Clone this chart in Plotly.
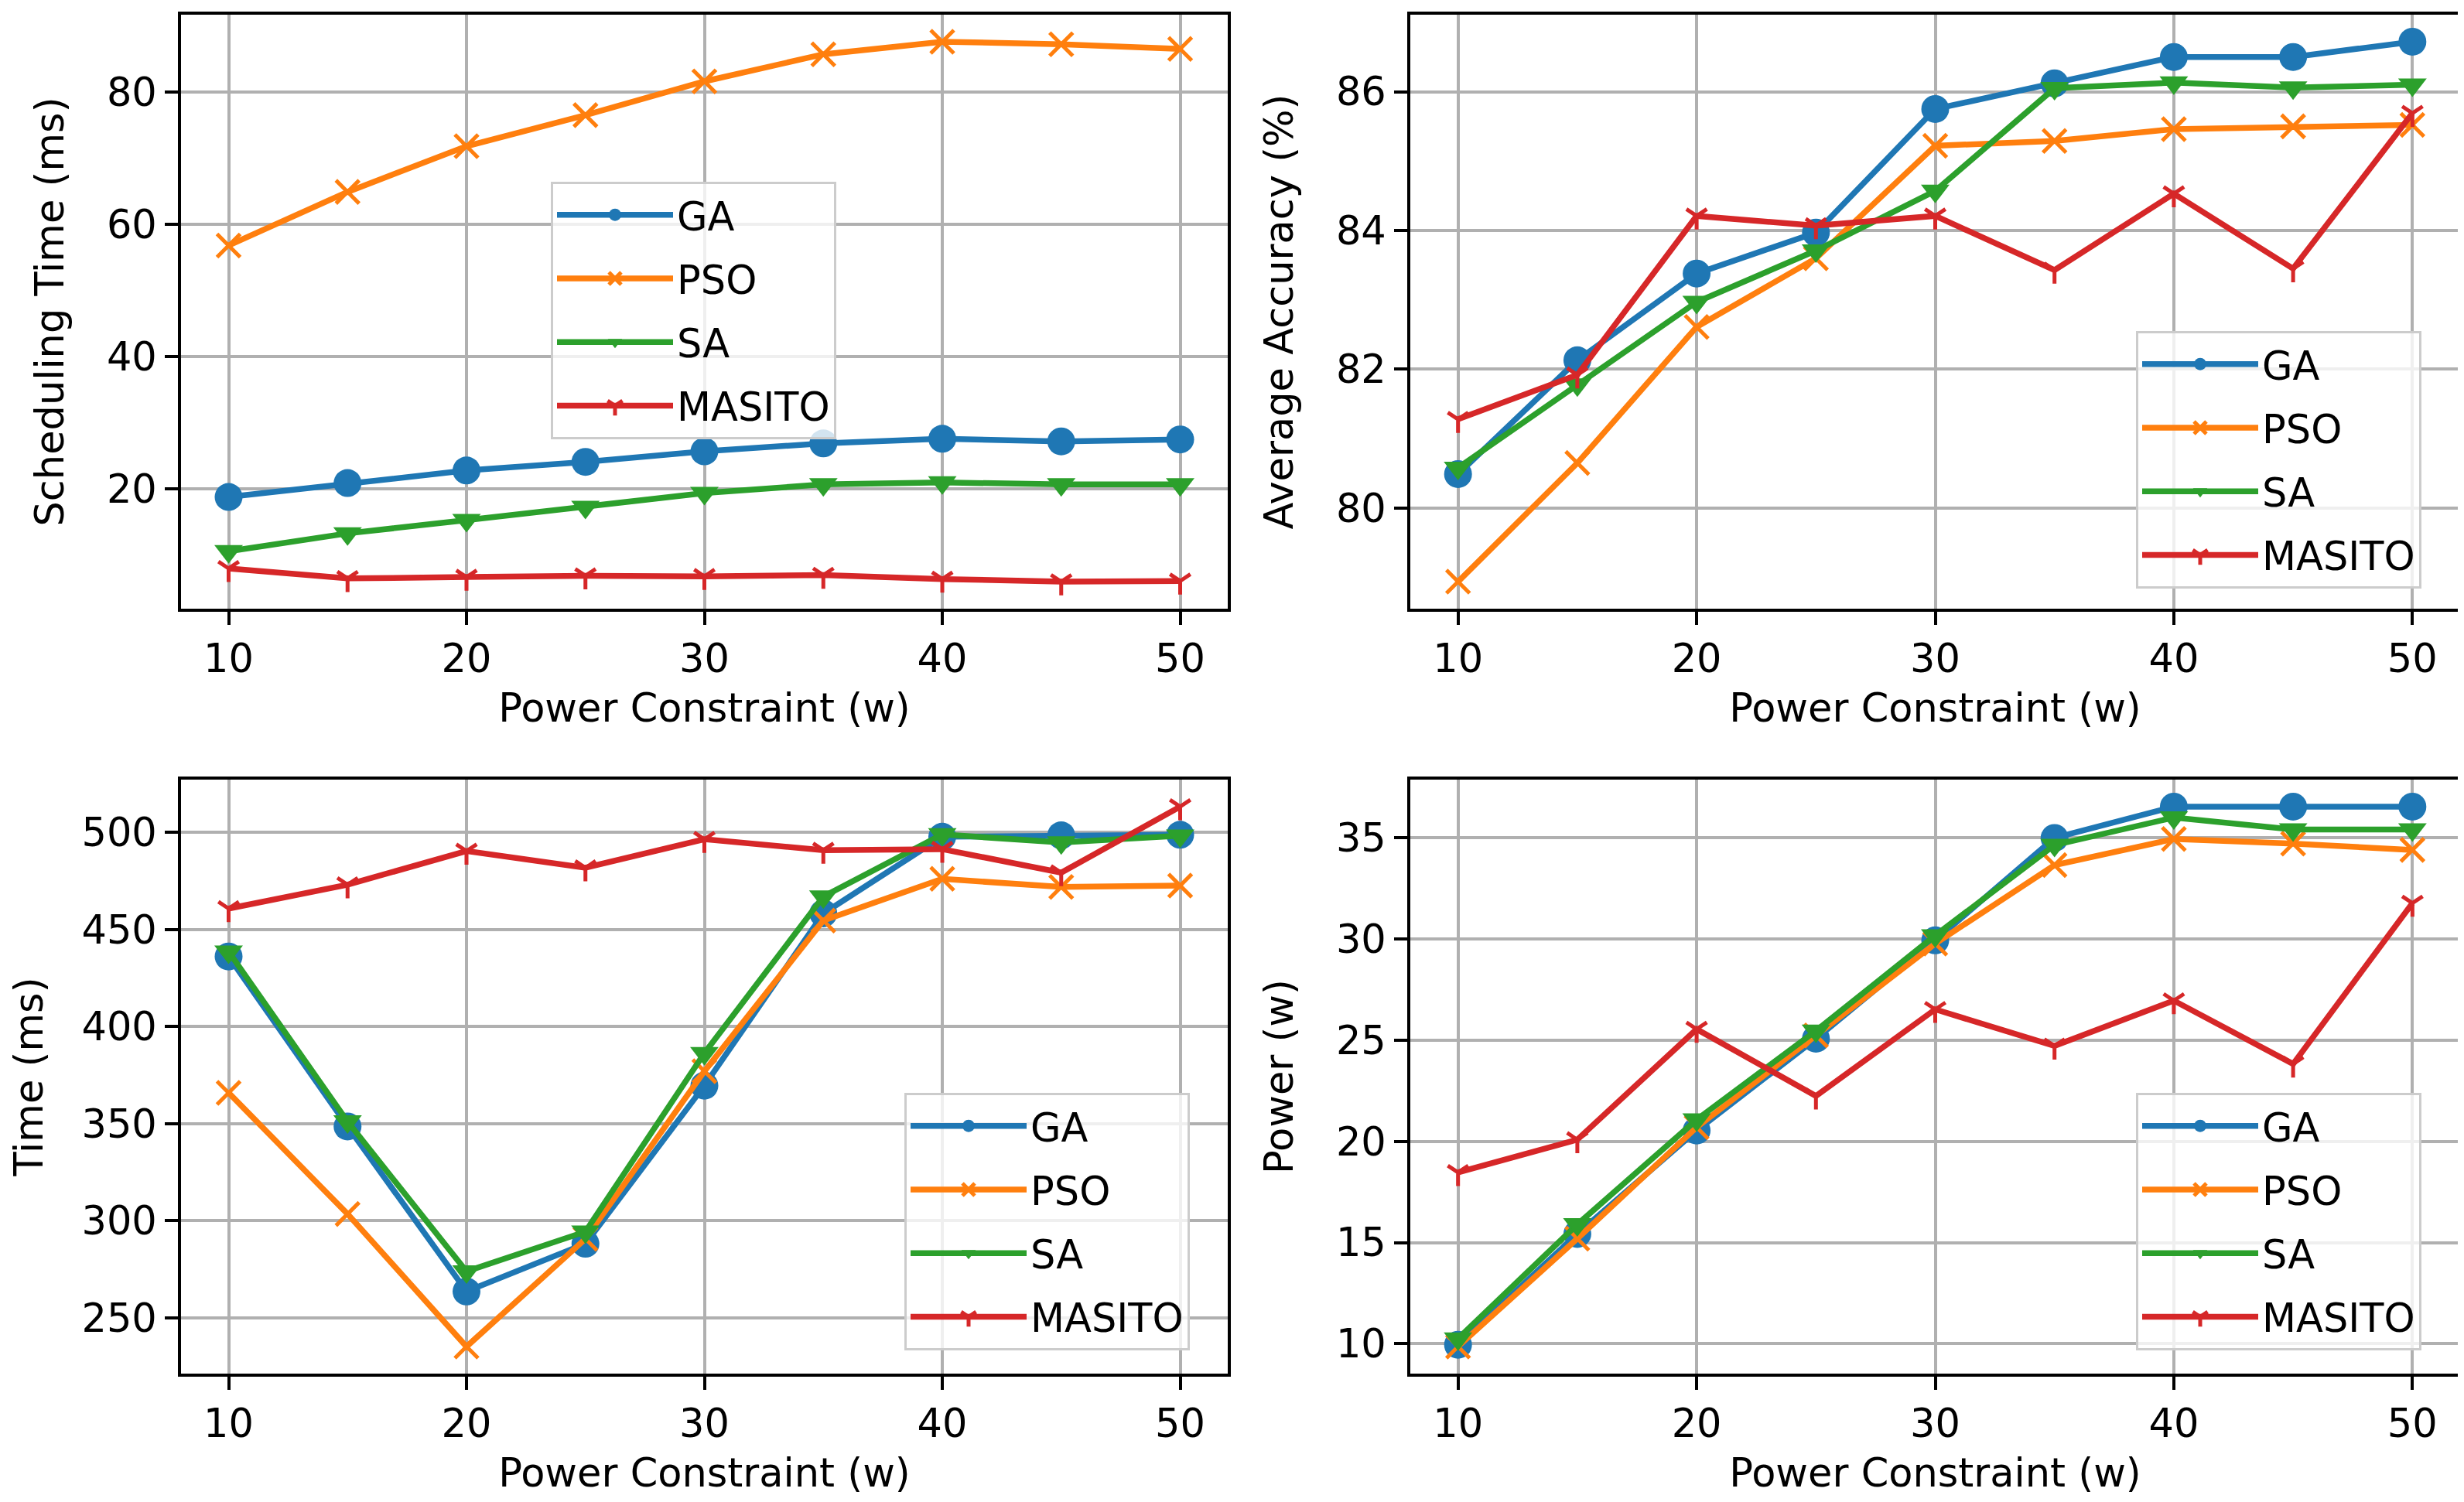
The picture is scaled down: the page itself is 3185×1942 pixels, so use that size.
# Four panels: scheduling time, accuracy, time and power against the power constraint
import plotly.graph_objects as go

power = [10, 15, 20, 25, 30, 35, 40, 45, 50]
methods = ["GA", "PSO", "SA", "MASITO"]

sched_ga = [18.8, 20.9, 22.8, 24.1, 25.7, 26.9, 27.6, 27.2, 27.5]
sched_pso = [56.8, 64.9, 71.8, 76.5, 81.6, 85.7, 87.6, 87.2, 86.5]
sched_sa = [10.6, 13.3, 15.3, 17.3, 19.4, 20.7, 21.0, 20.7, 20.7]
sched_masito = [8.0, 6.5, 6.7, 6.9, 6.8, 7.0, 6.4, 6.0, 6.1]

acc_ga = [80.49, 82.13, 83.38, 83.97, 85.75, 86.12, 86.50, 86.50, 86.72]
acc_pso = [78.94, 80.65, 82.61, 83.60, 85.22, 85.29, 85.46, 85.50, 85.52]
acc_sa = [80.58, 81.78, 82.97, 83.71, 84.57, 86.05, 86.13, 86.06, 86.10]
acc_masito = [81.28, 81.92, 84.21, 84.07, 84.21, 83.43, 84.53, 83.45, 85.69]

time_ga = [436.1, 348.6, 263.6, 288.2, 369.6, 458.3, 497.8, 498.5, 498.8]
time_pso = [365.9, 303.5, 235.2, 290.7, 377.0, 454.6, 476.1, 471.9, 472.6]
time_sa = [438.6, 351.1, 273.9, 294.4, 386.3, 467.0, 499.0, 494.8, 498.3]
time_masito = [460.8, 473.1, 490.4, 481.8, 496.5, 490.9, 491.4, 479.3, 513.3]

pow_ga = [9.95, 15.43, 20.54, 25.08, 29.94, 35.0, 36.55, 36.55, 36.55]
pow_pso = [9.86, 15.2, 20.7, 25.24, 29.78, 33.66, 34.95, 34.72, 34.41]
pow_sa = [10.26, 15.9, 21.08, 25.47, 30.18, 34.65, 36.01, 35.42, 35.42]
pow_masito = [18.47, 20.09, 25.55, 22.25, 26.53, 24.72, 26.96, 23.83, 31.78]

panels = [
    ([sched_ga, sched_pso, sched_sa, sched_masito], "Scheduling Time (ms)", [20, 40, 60, 80]),
    ([acc_ga, acc_pso, acc_sa, acc_masito], "Average Accuracy (%)", [80, 82, 84, 86]),
    ([time_ga, time_pso, time_sa, time_masito], "Time (ms)", [250, 300, 350, 400, 450, 500]),
    ([pow_ga, pow_pso, pow_sa, pow_masito], "Power (w)", [10, 15, 20, 25, 30, 35]),
]

colors = ["#1f77b4", "#ff7f0e", "#2ca02c", "#d62728"]
markers = [
    dict(symbol="circle", size=36),
    dict(symbol="x-thin", size=30, line=dict(width=5)),
    dict(symbol="triangle-down", size=32),
    dict(symbol="y-down", size=22, line=dict(width=5)),
]

W, H = 3185, 1942
FONT = "DejaVu Sans"
FS = 51

# axes boxes in pixels: left, right, top, bottom
boxes = [
    (226, 1579, 11, 779),
    (1815, 3172, 11, 779),
    (226, 1579, 1000, 1768),
    (1815, 3172, 1000, 1768),
]
legend_pos = [(704, 227), (2753, 420), (1161, 1405), (2753, 1405)]

fig = go.Figure()
layout = dict(
    width=W, height=H,
    margin=dict(l=0, r=0, t=0, b=0),
    paper_bgcolor="white", plot_bgcolor="white",
    font=dict(family=FONT, size=FS, color="black"),
)

for p, (series, ytitle, yticks) in enumerate(panels):
    n = "" if p == 0 else str(p + 1)
    leg = "legend" + n
    for name, vals, col, mk in zip(methods, series, colors, markers):
        m = dict(mk)
        m["color"] = col
        if "line" in m:
            m["line"] = dict(m["line"], color=col)
        fig.add_trace(go.Scatter(
            x=power, y=vals, name=name, mode="lines+markers",
            line=dict(color=col, width=7.5), marker=m,
            xaxis="x" + n, yaxis="y" + n, legend=leg,
            legendgroup=f"{p}-{name}",
        ))
    l, r, t, b = boxes[p]
    lo = min(min(s) for s in series)
    hi = max(max(s) for s in series)
    pad = (hi - lo) * 0.05
    axis_common = dict(
        showline=True, linecolor="black", linewidth=4, mirror=True,
        ticks="outside", ticklen=17, tickwidth=4, tickcolor="black",
        showgrid=True, gridcolor="#b0b0b0", gridwidth=4, zeroline=False,
        tickfont=dict(family=FONT, size=FS, color="black"),
        automargin=False,
    )
    layout["xaxis" + n] = dict(
        axis_common, domain=[l / W, r / W], anchor="y" + n,
        range=[8, 52], tickvals=[10, 20, 30, 40, 50],
        title=dict(text="Power Constraint (w)", standoff=18,
                   font=dict(family=FONT, size=FS, color="black")),
    )
    layout["yaxis" + n] = dict(
        axis_common, domain=[1 - b / H, 1 - t / H], anchor="x" + n,
        range=[lo - pad, hi + pad], tickvals=yticks,
        title=dict(text=ytitle, standoff=40,
                   font=dict(family=FONT, size=FS, color="black")),
    )
    lx, ly = legend_pos[p]
    layout[leg] = dict(
        x=lx / W, y=1 - ly / H, xanchor="left", yanchor="top",
        bgcolor="rgba(255,255,255,0.8)", bordercolor="#cccccc", borderwidth=3,
        font=dict(family=FONT, size=FS, color="black"),
        itemwidth=150, tracegroupgap=13,
    )

fig.update_layout(**layout)
fig.write_html("out.html")
